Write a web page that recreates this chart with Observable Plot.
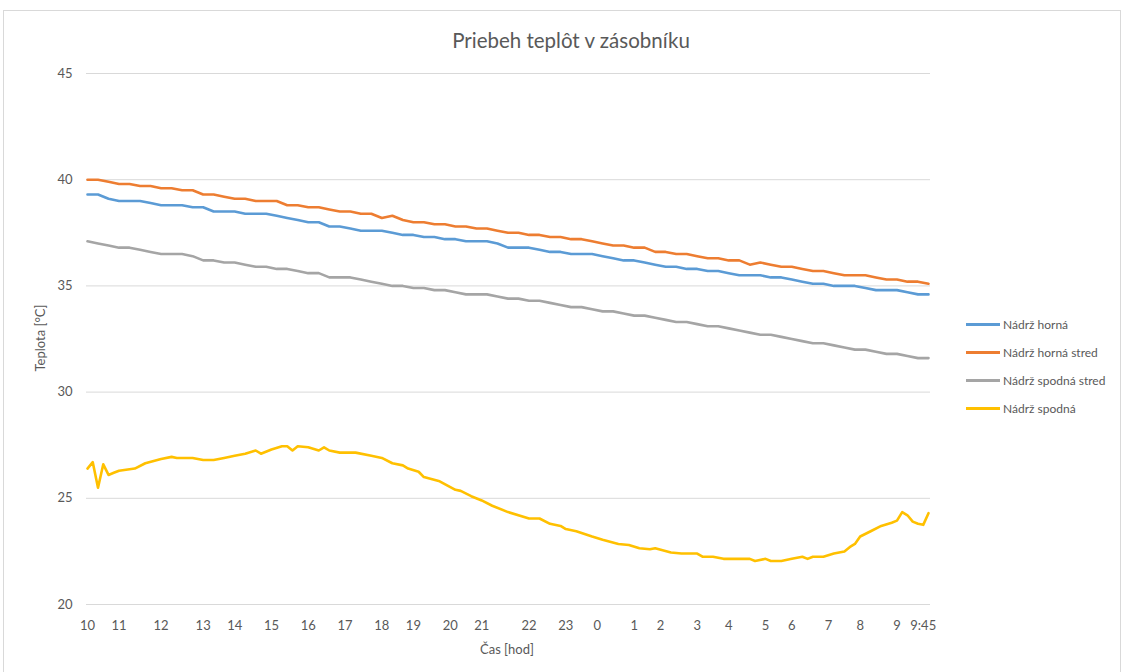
<!DOCTYPE html>
<html>
<head>
<meta charset="utf-8">
<script src="https://cdn.jsdelivr.net/npm/d3@7"></script>
<script src="https://cdn.jsdelivr.net/npm/@observablehq/plot@0.6"></script>
<style>
  body { margin: 0; background: #fff; font-family: Lato, "Open Sans", sans-serif; }
  #wrap { position: relative; width: 1126px; height: 672px; overflow: hidden; background: #fff; }
  #frame { position: absolute; left: 3px; top: 10px; width: 1118px; height: 700px; border: 1px solid #d9d9d9; box-sizing: border-box; }
  #title { position: absolute; left: 0; width: 1142px; top: 28px; line-height: 24px; text-align: center; font-size: 20.5px; color: #595959; }
  #chart { position: absolute; left: 0; top: 0; }
  #ytitle { position: absolute; left: 40px; top: 338px; transform: translate(-50%, -50%) rotate(-90deg); font-size: 13px; color: #595959; white-space: nowrap; }
  #xtitle { position: absolute; left: 507px; top: 649px; transform: translate(-50%, -50%); font-size: 13px; color: #595959; white-space: nowrap; }
  #legend { position: absolute; left: 966px; top: 310px; font-size: 12px; color: #595959; }
  .row { height: 28px; display: flex; align-items: center; white-space: nowrap; }
  .sw { width: 34px; height: 3px; margin-right: 3px; }
</style>
</head>
<body>
<div id="wrap">
  <div id="frame"></div>
  <div id="chart"></div>
  <div id="title">Priebeh teplôt v zásobníku</div>
  <div id="ytitle">Teplota [°C]</div>
  <div id="xtitle">Čas [hod]</div>
  <div id="legend"></div>
</div>
<script>
// Series names and colours
const seriesNames = ["Nádrž horná", "Nádrž horná stred", "Nádrž spodná stred", "Nádrž spodná"];
const seriesColors = ["#5B9BD5", "#ED7D31", "#A5A5A5", "#FFC000"];

// X-axis: sample index of each labelled hour and its label
const tickIdx = [0, 6, 14, 22, 28, 35, 42, 49, 56, 62, 69, 75, 84, 91, 97, 104, 109, 116, 122, 129, 134, 141, 147, 154, 159];
const tickLabels = ["10", "11", "12", "13", "14", "15", "16", "17", "18", "19", "20", "21", "22", "23", "0", "1", "2", "3", "4", "5", "6", "7", "8", "9", "9:45"];

// Sample indices for the three upper series
const sampleIdx = [0,2,4,6,8,10,12,14,16,18,20,22,24,26,28,30,32,34,36,38,40,42,44,46,48,50,52,54,56,58,60,62,64,66,68,70,72,74,76,78,80,82,84,86,88,90,92,94,96,98,100,102,104,106,108,110,112,114,116,118,120,122,124,126,128,130,132,134,136,138,140,142,144,146,148,150,152,154,156,158,160];

const hornaVals = [39.3,39.3,39.1,39.0,39.0,39.0,38.9,38.8,38.8,38.8,38.7,38.7,38.5,38.5,38.5,38.4,38.4,38.4,38.3,38.2,38.1,38.0,38.0,37.8,37.8,37.7,37.6,37.6,37.6,37.5,37.4,37.4,37.3,37.3,37.2,37.2,37.1,37.1,37.1,37.0,36.8,36.8,36.8,36.7,36.6,36.6,36.5,36.5,36.5,36.4,36.3,36.2,36.2,36.1,36.0,35.9,35.9,35.8,35.8,35.7,35.7,35.6,35.5,35.5,35.5,35.4,35.4,35.3,35.2,35.1,35.1,35.0,35.0,35.0,34.9,34.8,34.8,34.8,34.7,34.6,34.6];

const hornaStredVals = [40.0,40.0,39.9,39.8,39.8,39.7,39.7,39.6,39.6,39.5,39.5,39.3,39.3,39.2,39.1,39.1,39.0,39.0,39.0,38.8,38.8,38.7,38.7,38.6,38.5,38.5,38.4,38.4,38.2,38.3,38.1,38.0,38.0,37.9,37.9,37.8,37.8,37.7,37.7,37.6,37.5,37.5,37.4,37.4,37.3,37.3,37.2,37.2,37.1,37.0,36.9,36.9,36.8,36.8,36.6,36.6,36.5,36.5,36.4,36.3,36.3,36.2,36.2,36.0,36.1,36.0,35.9,35.9,35.8,35.7,35.7,35.6,35.5,35.5,35.5,35.4,35.3,35.3,35.2,35.2,35.1];

const spodnaStredVals = [37.1,37.0,36.9,36.8,36.8,36.7,36.6,36.5,36.5,36.5,36.4,36.2,36.2,36.1,36.1,36.0,35.9,35.9,35.8,35.8,35.7,35.6,35.6,35.4,35.4,35.4,35.3,35.2,35.1,35.0,35.0,34.9,34.9,34.8,34.8,34.7,34.6,34.6,34.6,34.5,34.4,34.4,34.3,34.3,34.2,34.1,34.0,34.0,33.9,33.8,33.8,33.7,33.6,33.6,33.5,33.4,33.3,33.3,33.2,33.1,33.1,33.0,32.9,32.8,32.7,32.7,32.6,32.5,32.4,32.3,32.3,32.2,32.1,32.0,32.0,31.9,31.8,31.8,31.7,31.6,31.6];

// Bottom tank: its own sample indices (denser where it wiggles)
const spodnaIdx = [0,1,2,3,4,5,6,9,11,14,16,17,20,22,24,26,28,30,32,33,35,37,38,39,40,42,44,45,46,48,51,54,56,58,60,61,63,64,67,70,71,73,75,77,80,84,86,88,90,91,93,96,98,101,103,105,107,108,111,113,116,117,119,121,126,127,129,130,132,134,136,137,138,140,142,144,145,146,147,149,151,153,154,155,156,157,158,159,160];
const spodnaVals = [26.4,26.7,25.5,26.6,26.1,26.2,26.3,26.4,26.65,26.85,26.95,26.9,26.9,26.8,26.8,26.9,27.0,27.1,27.25,27.1,27.3,27.45,27.45,27.25,27.45,27.4,27.25,27.4,27.25,27.15,27.15,27.0,26.9,26.65,26.55,26.4,26.25,26.0,25.8,25.4,25.35,25.1,24.9,24.65,24.35,24.05,24.05,23.8,23.7,23.55,23.45,23.2,23.05,22.85,22.8,22.65,22.6,22.65,22.45,22.4,22.4,22.25,22.25,22.15,22.15,22.05,22.15,22.05,22.05,22.15,22.25,22.15,22.25,22.25,22.4,22.5,22.7,22.85,23.2,23.45,23.7,23.85,23.95,24.35,24.2,23.9,23.8,23.75,24.3];

const yTicks = [20, 25, 30, 35, 40, 45];

// Build long table
const seriesDefs = [
  {name: seriesNames[0], idx: sampleIdx, vals: hornaVals},
  {name: seriesNames[1], idx: sampleIdx, vals: hornaStredVals},
  {name: seriesNames[2], idx: sampleIdx, vals: spodnaStredVals},
  {name: seriesNames[3], idx: spodnaIdx, vals: spodnaVals}
];
const rows = seriesDefs.flatMap(s => s.vals.map((v, i) => ({x: s.idx[i], y: v, name: s.name})));
const labelMap = new Map(tickIdx.map((d, i) => [d, tickLabels[i]]));

const chart = Plot.plot({
  width: 950,
  height: 672,
  marginLeft: 86,
  marginRight: 20,
  marginTop: 73,
  marginBottom: 68,
  style: {fontSize: "13px", fontFamily: "Lato, 'Open Sans', sans-serif", color: "#595959", background: "transparent"},
  x: {domain: [0, 160], insetLeft: 1, insetRight: 2},
  y: {domain: [20, 45]},
  color: {domain: seriesNames, range: seriesColors},
  marks: [
    Plot.ruleY(yTicks, {stroke: "#d9d9d9", strokeWidth: 1}),
    Plot.line(rows, {x: "x", y: "y", z: "name", stroke: "name", strokeWidth: 2.6, strokeLinejoin: "round", strokeLinecap: "round"}),
    Plot.axisY({ticks: yTicks, tickSize: 0, tickPadding: 14, label: null, fill: "#595959"}),
    Plot.axisX({ticks: tickIdx, tickFormat: d => labelMap.get(d), tickSize: 0, tickPadding: 16, label: null, fill: "#595959"})
  ]
});
document.getElementById("chart").appendChild(chart);

// Legend
const legend = document.getElementById("legend");
seriesNames.forEach((n, i) => {
  const r = document.createElement("div");
  r.className = "row";
  r.innerHTML = `<span class="sw" style="background:${seriesColors[i]}"></span><span>${n}</span>`;
  legend.appendChild(r);
});
</script>
</body>
</html>
